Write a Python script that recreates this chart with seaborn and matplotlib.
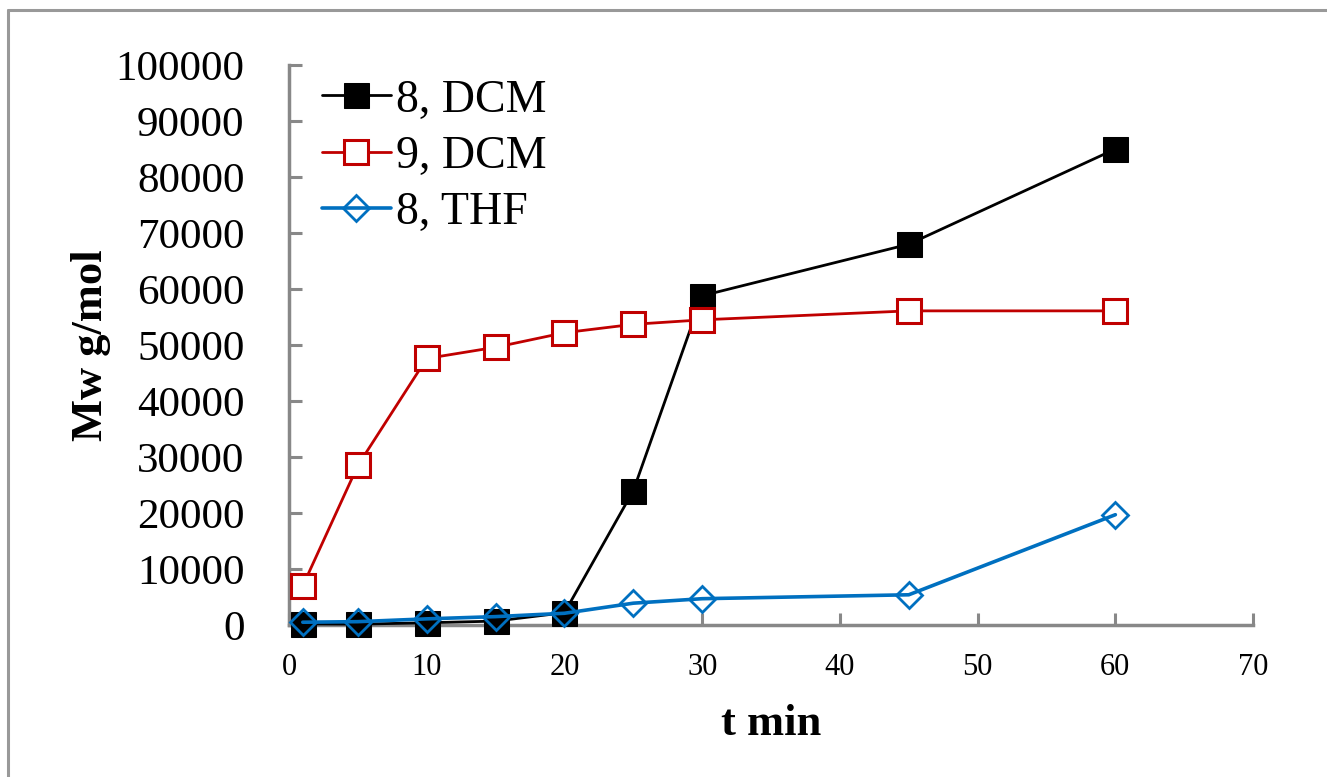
import seaborn as sns
import matplotlib.pyplot as plt
import pandas as pd
from matplotlib.lines import Line2D

t_min = [1, 5, 10, 15, 20, 25, 30, 45, 60]
mw_8_dcm = [200, 150, 400, 700, 2200, 24000, 58800, 68000, 85000]
mw_9_dcm = [7000, 28500, 47600, 49600, 52200, 53700, 54500, 56100, 56100]
mw_8_thf = [500, 600, 1100, 1500, 2100, 3900, 4700, 5400, 19700]

labels = ['8, DCM', '9, DCM', '8, THF']
x_ticks = list(range(0, 71, 10))
y_ticks = list(range(0, 100001, 10000))

df = pd.DataFrame({
    't': t_min * 3,
    'Mw': mw_8_dcm + mw_9_dcm + mw_8_thf,
    'series': [labels[0]] * 9 + [labels[1]] * 9 + [labels[2]] * 9,
})

sns.set_theme(style='ticks')
plt.rcParams['font.family'] = ['Liberation Serif', 'DejaVu Serif']
plt.rcParams['text.color'] = 'black'
plt.rcParams['axes.labelcolor'] = 'black'
plt.rcParams['xtick.labelcolor'] = 'black'
plt.rcParams['ytick.labelcolor'] = 'black'

fig = plt.figure(figsize=(13.27, 7.77), dpi=100)
ax = fig.add_axes([0.2178, 0.1956, 0.7265, 0.7207])

styles = {
    '8, DCM': dict(color='black', marker='s', markersize=18, markerfacecolor='black',
                   markeredgecolor='black', linewidth=2.0),
    '9, DCM': dict(color='#C00000', marker='s', markersize=17, markerfacecolor='white',
                   markeredgecolor='#C00000', markeredgewidth=2.2, linewidth=2.0),
    '8, THF': dict(color='#0070C0', marker='D', markersize=13, markerfacecolor='none',
                   markeredgecolor='#0070C0', markeredgewidth=2.0, linewidth=2.6),
}

for name in labels:
    sub = df[df['series'] == name]
    sns.lineplot(data=sub, x='t', y='Mw', ax=ax, label=name, clip_on=False,
                 zorder=5, **styles[name])

ax.set_xlim(0, 70)
ax.set_ylim(0, 100000)
ax.set_xticks(x_ticks)
ax.set_yticks(y_ticks)
ax.set_xticklabels([str(v) for v in x_ticks], fontsize=22)
ax.set_yticklabels([str(v) for v in y_ticks], fontsize=31)

for side in ['top', 'right']:
    ax.spines[side].set_visible(False)
for side in ['left', 'bottom']:
    ax.spines[side].set_color('#888888')
    ax.spines[side].set_linewidth(2.5)
ax.tick_params(axis='y', direction='in', length=9, width=2.2, color='#888888', pad=32)
ax.tick_params(axis='x', direction='in', length=9, width=2.2, color='#888888', pad=20)

ax.set_xlabel('t min', fontsize=32, fontweight='bold', labelpad=16)
ax.set_ylabel('Mw g/mol', fontsize=32, fontweight='bold', labelpad=3)

leg = ax.legend(loc='upper left', bbox_to_anchor=(0.034, 0.975), frameon=False,
                fontsize=33, handlelength=1.5, handletextpad=0.12,
                labelspacing=0.3, borderpad=0, borderaxespad=0)

# outer frame of the original figure
fig.add_artist(Line2D([8 / 1327, 8 / 1327], [0, 1 - 10 / 777], color='#999999', lw=2.2))
fig.add_artist(Line2D([8 / 1327, 1], [1 - 10 / 777, 1 - 10 / 777], color='#999999', lw=2.2))

plt.savefig('out.png', dpi=100)
plt.close()
